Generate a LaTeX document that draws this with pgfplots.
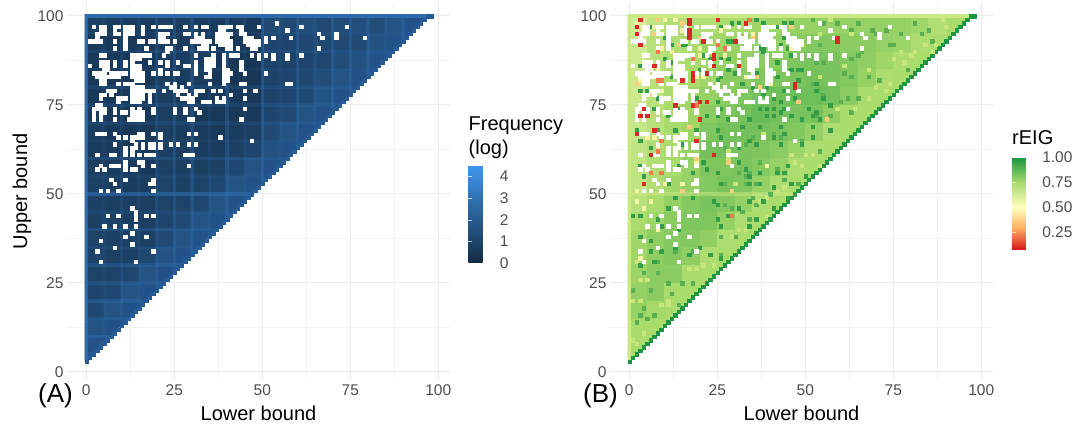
\documentclass[border=0pt]{standalone}
\usepackage{pgfplots}
\usepackage{pgfplotstable}
\usepackage{fontspec}
\setmainfont{Liberation Sans}
\pgfplotsset{compat=1.18}
\definecolor{tickgrey}{HTML}{4D4D4D}
\definecolor{gmaj}{HTML}{EBEBEB}
\definecolor{gmin}{HTML}{F2F2F2}
\definecolor{stripeA}{RGB}{48,110,176}
\definecolor{baseA}{RGB}{34,82,135}
\definecolor{diagA}{RGB}{38,92,150}
\definecolor{baseB}{RGB}{170,220,108}
\definecolor{diagB}{RGB}{30,150,66}
\definecolor{redc}{RGB}{218,40,38}
\definecolor{orgc}{RGB}{244,120,72}
\definecolor{palec}{RGB}{253,205,125}
\definecolor{yelc}{RGB}{246,245,165}
\definecolor{darkc}{RGB}{50,158,74}
\definecolor{midg}{RGB}{88,176,82}
\definecolor{ligg}{RGB}{200,230,122}
\definecolor{lightB}{RGB}{205,232,130}
\newcommand{\st}[5]{\addplot[line width=3.52pt,color=stripeA,opacity=#5,no marks] coordinates {(#1,#2)(#3,#4)};}
\newcommand{\fs}[1]{\fontsize{#1}{#1}\selectfont}
\pgfplotstableread{
l u va vb
2.5 97.5 .9 .62
7.5 97.5 .7 .68
12.5 97.5 .7 .72
17.5 97.5 .7 .72
22.5 97.5 .8 .72
27.5 97.5 .8 .74
32.5 97.5 .7 .74
37.5 97.5 .7 .76
42.5 97.5 .7 .76
47.5 97.5 .6 .78
52.5 97.5 1.3 .78
57.5 97.5 1.3 .78
62.5 97.5 1.4 .78
67.5 97.5 1.3 .78
72.5 97.5 1.4 .78
77.5 97.5 1.5 .78
82.5 97.5 1.4 .76
87.5 97.5 1.7 .72
2.5 92.5 .6 .64
7.5 92.5 .6 .7
12.5 92.5 .6 .72
17.5 92.5 .6 .74
22.5 92.5 .8 .76
27.5 92.5 .7 .76
32.5 92.5 .7 .78
37.5 92.5 .6 .78
42.5 92.5 .6 .78
47.5 92.5 .5 .8
52.5 92.5 1.1 .81
57.5 92.5 1.1 .81
62.5 92.5 1.2 .8
67.5 92.5 1.2 .8
72.5 92.5 1.3 .78
77.5 92.5 1.3 .77
82.5 92.5 1.6 .73
2.5 87.5 .6 .64
7.5 87.5 .6 .7
12.5 87.5 .6 .72
17.5 87.5 .6 .74
22.5 87.5 .8 .76
27.5 87.5 .7 .78
32.5 87.5 .7 .78
37.5 87.5 .6 .8
42.5 87.5 .5 .8
47.5 87.5 .5 .82
52.5 87.5 1.0 .83
57.5 87.5 1.0 .83
62.5 87.5 1.1 .81
67.5 87.5 1.2 .79
72.5 87.5 1.4 .76
77.5 87.5 1.6 .73
2.5 82.5 .6 .64
7.5 82.5 .6 .7
12.5 82.5 .6 .74
17.5 82.5 .6 .74
22.5 82.5 .8 .76
27.5 82.5 .7 .8
32.5 82.5 .7 .8
37.5 82.5 .6 .82
42.5 82.5 .5 .82
47.5 82.5 .5 .83
52.5 82.5 1.0 .84
57.5 82.5 1.1 .83
62.5 82.5 1.2 .81
67.5 82.5 1.4 .78
72.5 82.5 1.7 .73
2.5 77.5 .6 .64
7.5 77.5 .6 .7
12.5 77.5 .6 .74
17.5 77.5 .6 .76
22.5 77.5 .8 .78
27.5 77.5 .7 .8
32.5 77.5 .6 .82
37.5 77.5 .6 .84
42.5 77.5 .6 .85
47.5 77.5 .6 .85
52.5 77.5 1.0 .85
57.5 77.5 1.1 .84
62.5 77.5 1.3 .8
67.5 77.5 1.7 .74
2.5 72.5 .7 .66
7.5 72.5 .6 .7
12.5 72.5 .6 .74
17.5 72.5 .6 .76
22.5 72.5 .8 .8
27.5 72.5 .7 .82
32.5 72.5 .6 .84
37.5 72.5 .6 .86
42.5 72.5 .6 .84
47.5 72.5 .6 .83
52.5 72.5 1.1 .83
57.5 72.5 1.3 .79
62.5 72.5 1.7 .74
2.5 67.5 .7 .66
7.5 67.5 .6 .7
12.5 67.5 .6 .74
17.5 67.5 .6 .76
22.5 67.5 .8 .82
27.5 67.5 .7 .84
32.5 67.5 .7 .84
37.5 67.5 .6 .84
42.5 67.5 .7 .83
47.5 67.5 .8 .81
52.5 67.5 1.3 .78
57.5 67.5 1.7 .73
2.5 62.5 .7 .68
7.5 62.5 .7 .72
12.5 62.5 .6 .74
17.5 62.5 .6 .78
22.5 62.5 .9 .84
27.5 62.5 .8 .84
32.5 62.5 .7 .83
37.5 62.5 .7 .82
42.5 62.5 .9 .8
47.5 62.5 1.1 .77
52.5 62.5 1.6 .73
2.5 57.5 .8 .68
7.5 57.5 .7 .72
12.5 57.5 .7 .74
17.5 57.5 .6 .78
22.5 57.5 .9 .82
27.5 57.5 .8 .82
32.5 57.5 .8 .83
37.5 57.5 .9 .81
42.5 57.5 1.2 .78
47.5 57.5 1.7 .73
2.5 52.5 .9 .68
7.5 52.5 .8 .72
12.5 52.5 .7 .76
17.5 52.5 .7 .78
22.5 52.5 1.0 .81
27.5 52.5 .9 .83
32.5 52.5 1.0 .82
37.5 52.5 1.2 .78
42.5 52.5 1.7 .73
2.5 47.5 .9 .7
7.5 47.5 .8 .74
12.5 47.5 .8 .78
17.5 47.5 .8 .81
22.5 47.5 1.0 .83
27.5 47.5 1.0 .81
32.5 47.5 1.2 .78
37.5 47.5 1.7 .73
2.5 42.5 .9 .74
7.5 42.5 .9 .77
12.5 42.5 .8 .8
17.5 42.5 .8 .82
22.5 42.5 1.1 .82
27.5 42.5 1.3 .78
32.5 42.5 1.7 .73
2.5 37.5 1.0 .76
7.5 37.5 .9 .79
12.5 37.5 .9 .81
17.5 37.5 .9 .81
22.5 37.5 1.3 .79
27.5 37.5 1.7 .73
2.5 32.5 1.0 .76
7.5 32.5 .9 .79
12.5 32.5 .9 .81
17.5 32.5 1.2 .79
22.5 32.5 1.7 .73
2.5 27.5 1.0 .77
7.5 27.5 1.0 .8
12.5 27.5 1.2 .8
17.5 27.5 1.7 .74
2.5 22.5 1.1 .78
7.5 22.5 1.2 .8
12.5 22.5 1.7 .74
2.5 17.5 1.2 .78
7.5 17.5 1.7 .75
2.5 12.5 1.7 .74
}\blocks
\pgfplotstableread[row sep=\\]{
l u\\
0 3\\1 4\\2 5\\3 6\\4 7\\5 8\\6 9\\7 10\\8 11\\9 12\\10 13\\11 14\\12 15\\13 16\\14 17\\15 18\\16 19\\17 20\\18 21\\19 22\\20 23\\21 24\\22 25\\23 26\\24 27\\25 28\\26 29\\27 30\\28 31\\29 32\\30 33\\31 34\\32 35\\33 36\\34 37\\35 38\\36 39\\37 40\\38 41\\39 42\\40 43\\41 44\\42 45\\43 46\\44 47\\45 48\\46 49\\47 50\\48 51\\49 52\\50 53\\51 54\\52 55\\53 56\\54 57\\55 58\\56 59\\57 60\\58 61\\59 62\\60 63\\61 64\\62 65\\63 66\\64 67\\65 68\\66 69\\67 70\\68 71\\69 72\\70 73\\71 74\\72 75\\73 76\\74 77\\75 78\\76 79\\77 80\\78 81\\79 82\\80 83\\81 84\\82 85\\83 86\\84 87\\85 88\\86 89\\87 90\\88 91\\89 92\\90 93\\91 94\\92 95\\93 96\\94 97\\95 98\\96 99\\97 100\\98 100\\
}\diagcells
\pgfplotstableread[row sep=\\]{
l u\\
2 97\\4 97\\5 97\\8 97\\9 97\\11 97\\12 97\\13 97\\16 97\\19 97\\21 97\\22 97\\23 97\\24 97\\28 97\\31 97\\33 97\\34 97\\38 97\\39 97\\40 97\\41 97\\43 97\\44 97\\49 97\\
8 96\\11 96\\16 96\\4 96\\5 96\\12 96\\13 96\\38 96\\39 96\\44 96\\
3 95\\4 95\\5 95\\8 95\\9 95\\11 95\\12 95\\13 95\\16 95\\21 95\\22 95\\23 95\\28 95\\29 95\\31 95\\33 95\\37 95\\38 95\\39 95\\40 95\\41 95\\44 95\\45 95\\
11 94\\21 94\\22 94\\37 94\\38 94\\39 94\\40 94\\45 94\\46 94\\47 94\\31 94\\32 94\\33 94\\3 94\\
1 93\\2 93\\3 93\\4 93\\8 93\\11 93\\15 93\\16 93\\18 93\\19 93\\21 93\\22 93\\23 93\\25 93\\30 93\\31 93\\32 93\\33 93\\34 93\\35 93\\37 93\\38 93\\39 93\\40 93\\41 93\\45 93\\46 93\\47 93\\48 93\\49 93\\
11 92\\38 92\\39 92\\40 92\\41 92\\33 92\\34 92\\
8 91\\11 91\\17 91\\23 91\\24 91\\28 91\\32 91\\33 91\\34 91\\36 91\\40 91\\41 91\\43 91\\47 91\\48 91\\23 90\\
4 89\\5 89\\13 89\\14 89\\15 89\\16 89\\17 89\\18 89\\22 89\\31 89\\36 89\\39 89\\41 89\\42 89\\43 89\\47 89\\49 89\\53 89\\57 89\\
13 88\\14 88\\15 88\\34 88\\35 88\\36 88\\39 88\\
4 87\\5 87\\6 87\\8 87\\11 87\\13 87\\18 87\\21 87\\23 87\\26 87\\31 87\\34 87\\35 87\\36 87\\39 87\\44 87\\
1 86\\4 86\\5 86\\6 86\\8 86\\11 86\\13 86\\14 86\\15 86\\23 86\\28 86\\29 86\\31 86\\34 86\\35 86\\36 86\\39 86\\44 86\\
5 85\\6 85\\13 85\\14 85\\15 85\\21 85\\31 85\\34 85\\35 85\\39 85\\40 85\\44 85\\
2 84\\3 84\\4 84\\5 84\\7 84\\8 84\\9 84\\10 84\\11 84\\13 84\\14 84\\15 84\\16 84\\19 84\\21 84\\23 84\\25 84\\26 84\\31 84\\35 84\\39 84\\40 84\\41 84\\45 84\\51 84\\
3 83\\4 83\\5 83\\6 83\\7 83\\8 83\\9 83\\13 83\\14 83\\15 83\\16 83\\34 83\\35 83\\39 83\\40 83\\
4 82\\5 82\\14 82\\15 82\\16 82\\39 82\\40 82\\
4 81\\5 81\\9 81\\11 81\\12 81\\13 81\\23 81\\25 81\\29 81\\35 81\\39 81\\44 81\\45 81\\57 81\\
13 80\\14 80\\15 80\\16 80\\24 80\\25 80\\27 80\\
6 79\\7 79\\8 79\\13 79\\14 79\\15 79\\16 79\\17 79\\18 79\\19 79\\22 79\\25 79\\26 79\\27 79\\28 79\\31 79\\32 79\\33 79\\36 79\\38 79\\45 79\\48 79\\
4 78\\5 78\\7 78\\13 78\\14 78\\15 78\\16 78\\18 78\\26 78\\29 78\\31 78\\41 78\\
4 77\\9 77\\10 77\\11 77\\13 77\\14 77\\15 77\\16 77\\18 77\\27 77\\28 77\\29 77\\30 77\\37 77\\39 77\\45 77\\
9 76\\13 76\\14 76\\15 76\\18 76\\29 76\\30 76\\33 76\\34 76\\35 76\\37 76\\38 76\\39 76\\
3 75\\4 75\\
2 74\\3 74\\4 74\\5 74\\8 74\\13 74\\15 74\\19 74\\25 74\\28 74\\31 74\\45 74\\
2 73\\4 73\\5 73\\8 73\\10 73\\11 73\\13 73\\14 73\\15 73\\16 73\\19 73\\25 73\\28 73\\32 73\\
2 72\\4 72\\13 72\\14 72\\15 72\\16 72\\
2 71\\4 71\\8 71\\12 71\\13 71\\14 71\\15 71\\16 71\\29 71\\30 71\\44 71\\
3 67\\4 67\\5 67\\8 67\\15 67\\16 67\\19 67\\21 67\\29 67\\31 67\\
9 66\\11 66\\13 66\\14 66\\15 66\\16 66\\21 66\\38 66\\13 65\\47 65\\
8 64\\14 64\\16 64\\18 64\\19 64\\21 64\\24 64\\26 64\\29 64\\31 64\\
11 63\\13 63\\14 63\\16 63\\18 63\\19 63\\21 63\\11 62\\13 62\\
3 61\\7 61\\8 61\\11 61\\13 61\\15 61\\17 61\\18 61\\19 61\\28 61\\29 61\\30 61\\
11 59\\15 59\\16 59\\4 58\\7 58\\8 58\\9 58\\11 58\\16 58\\19 58\\29 58\\3 57\\5 57\\11 57\\13 57\\14 57\\
7 54\\11 54\\19 54\\8 53\\18 53\\19 53\\4 51\\6 51\\9 51\\19 51\\
13 46\\14 45\\6 44\\9 44\\14 44\\17 44\\19 44\\14 43\\5 41\\8 41\\11 41\\14 41\\13 39\\11 38\\17 38\\4 37\\13 36\\8 35\\3 34\\19 34\\4 31\\14 31\\
54 98\\49 97\\61 97\\74 97\\57 96\\66 95\\71 95\\51 94\\53 94\\58 94\\67 94\\71 94\\79 94\\51 93\\46 92\\47 92\\48 92\\49 92\\66 91\\51 89\\61 89\\49 88\\53 88\\57 88\\51 84\\58 81\\48 79\\
}\holes
\pgfplotstableread[row sep=\\]{
l u\\
4 97\\6 97\\11 97\\12 97\\19 97\\23 97\\26 97\\29 98\\31 98\\36 99\\42 97\\44 98\\46 98\\38 98\\
10 94\\12 92\\15 92\\16 92\\23 93\\28 93\\29 93\\43 92\\44 94\\45 91\\37 91\\38 91\\38 90\\
4 89\\12 87\\3 86\\10 88\\21 89\\23 88\\26 88\\28 88\\34 88\\42 87\\46 89\\48 85\\44 85\\46 85\\
2 84\\11 84\\20 85\\26 83\\28 85\\30 84\\36 84\\49 85\\
7 83\\12 83\\25 82\\32 81\\42 83\\44 81\\48 82\\53 81\\
3 79\\5 79\\13 79\\19 79\\25 79\\28 79\\35 80\\39 80\\44 79\\53 79\\
8 77\\19 77\\25 76\\38 78\\41 77\\43 76\\47 77\\55 77\\
3 75\\7 74\\14 74\\26 74\\37 74\\39 74\\41 74\\43 73\\44 74\\51 74\\53 73\\57 75\\
11 72\\22 72\\25 72\\28 71\\34 71\\39 72\\41 72\\46 72\\49 71\\52 72\\54 71\\
2 68\\8 68\\13 68\\19 68\\25 68\\32 69\\37 69\\43 69\\52 69\\57 68\\
3 65\\6 63\\15 64\\16 63\\21 64\\26 66\\31 63\\34 65\\36 64\\41 66\\43 64\\44 67\\49 64\\52 66\\
3 58\\4 55\\14 58\\18 56\\21 59\\22 57\\25 56\\31 59\\33 57\\34 55\\37 56\\42 56\\44 56\\45 58\\50 55\\
11 53\\18 53\\26 53\\34 53\\37 53\\41 52\\46 53\\47 50\\
1 44\\3 44\\8 43\\11 46\\13 49\\18 49\\24 48\\25 47\\31 46\\34 48\\38 48\\41 46\\45 49\\
3 38\\6 37\\9 41\\14 40\\17 38\\25 43\\26 41\\28 44\\34 41\\36 43\\40 43\\
6 34\\9 34\\13 35\\20 35\\26 32\\23 33\\17 33\\3 30\\7 31\\
}\darkcells
\pgfplotstableread[row sep=\\]{
l u\\
52 99\\55 98\\59 98\\63 96\\65 98\\69 96\\73 96\\75 92\\74 92\\81 98\\86 93\\83 95\\54 92\\55 87\\53 87\\63 88\\65 89\\68 83\\61 84\\63 83\\52 81\\55 78\\53 72\\60 76\\62 77\\65 77\\63 73\\57 72\\70 95\\66 90\\77 95\\71 82\\79 85\\85 96\\
33 64\\35 66\\43 66\\41 67\\27 63\\37 59\\31 56\\33 55\\34 56\\27 53\\33 53\\36 53\\48 53\\44 54\\42 57\\52 66\\54 62\\49 65\\29 46\\27 47\\32 45\\36 47\\40 50\\35 49\\26 38\\30 38\\34 43\\
4 28\\6 23\\3 16\\1 23\\8 28\\11 25\\15 25\\5 15\\7 16\\12 22\\14 19\\8 31\\13 34\\18 34\\26 33\\18 25\\4 18\\2 14\\
}\midcells
\pgfplotstableread[row sep=\\]{
l u\\
57 99\\89 99\\90 97\\54 95\\63 95\\77 90\\80 89\\78 87\\81 90\\68 77\\70 80\\74 81\\73 79\\64 74\\59 74\\61 86\\68 85\\56 71\\84 92\\86 90\\87 92\\54 83\\75 88\\
38 48\\37 48\\39 49\\42 51\\44 52\\47 59\\46 61\\50 61\\52 61\\54 58\\49 58\\31 40\\33 40\\29 38\\41 46\\39 44\\36 43\\38 67\\28 62\\30 53\\28 60\\
2 31\\5 26\\3 20\\9 19\\11 19\\1 9\\2 8\\4 11\\21 30\\19 29\\24 30\\11 20\\17 29\\1 20\\3 26\\
}\ligcells
\pgfplotstableread[row sep=\\]{
l u\\
2 98\\5 97\\7 97\\10 99\\13 99\\15 96\\9 91\\12 90\\20 91\\27 97\\26 96\\35 95\\20 89\\21 87\\27 89\\33 83\\34 83\\40 81\\46 91\\19 83\\3 82\\9 79\\8 85\\21 83\\
5 66\\7 66\\8 63\\11 66\\19 59\\8 61\\15 53\\10 53\\4 46\\3 32\\6 48\\39 58\\8 40\\2 51\\4 51\\2 48\\
}\yelcells
\pgfplotstableread[row sep=\\]{
l u\\
8 99\\15 98\\7 95\\4 93\\20 94\\14 92\\35 94\\14 85\\6 78\\10 77\\2 81\\36 83\\37 80\\46 97\\56 71\\48 76\\17 69\\7 68\\19 60\\15 51\\28 59\\29 51\\
}\palecells
\pgfplotstableread[row sep=\\]{
l u\\
34 99\\25 92\\27 91\\8 90\\18 88\\8 82\\9 82\\19 75\\9 65\\8 62\\6 56\\9 56\\29 44\\
}\orgcells
\pgfplotstableread[row sep=\\]{
l u\\
3 99\\17 99\\17 98\\25 99\\33 98\\2 97\\17 96\\17 95\\17 94\\2 95\\3 92\\21 93\\30 93\\24 89\\24 88\\7 86\\24 86\\31 86\\22 84\\18 84\\18 83\\18 82\\15 82\\47 81\\47 80\\20 76\\22 76\\13 75\\18 75\\4 74\\3 72\\5 72\\20 71\\7 68\\2 67\\19 65\\6 61\\24 61\\4 53\\59 94\\59 93\\
}\redcells
\pgfplotsset{
  /pgf/number format/assume math mode=true,
  panel/.style={
    scale only axis, width=383pt, height=377pt,
    xmin=-5.48, xmax=103.33, ymin=-2.25, ymax=103.65,
    clip mode=individual,
    xtick={0,25,50,75,100}, ytick={0,25,50,75,100},
    minor xtick={12.5,37.5,62.5,87.5}, minor ytick={12.5,37.5,62.5,87.5},
    grid=both, major grid style={gmaj,line width=1pt}, minor grid style={gmin,line width=.6pt},
    axis line style={draw=none}, tick style={draw=none},
    tick label style={font=\fs{15.5},text=tickgrey},
    xticklabel style={yshift=-1pt},
    every axis x label/.style={at={(axis description cs:0.5,0)},yshift=-33pt,anchor=center,font=\fs{20}},
    every axis y label/.style={at={(axis description cs:0,0.5)},xshift=-45pt,rotate=90,anchor=center,font=\fs{20}},
  },
  cell/.style={only marks,mark=square*,mark size=1.72pt,line width=0.1pt},
  coarse/.style={scatter,only marks,point meta=explicit,mark=square*,mark size=8.8pt,line width=0.1pt,
     scatter/use mapped color={draw=mapped color,fill=mapped color}},
  cbar/.style={scale only axis,axis line style={draw=none},
     yticklabel pos=right, ytick pos=both, tick align=inside, major tick length=4pt,
     tick style={draw=white,line width=.5pt,opacity=.7},
     yticklabel style={font=\fs{15.5},anchor=west,xshift=2pt}}
}
\newcommand{\cells}[2]{\addplot[cell,mark options={draw=#1,fill=#1}] table[x=l,y=u] {#2};}
\begin{document}
\begin{tikzpicture}[x=1pt,y=1pt]
\path[use as bounding box] (0,0) rectangle (1075,423);
\begin{axis}[panel, at={(67pt,43pt)}, anchor=south west,
  xlabel={Lower bound}, ylabel={Upper bound},
  colormap={freq}{rgb255(0)=(19,43,67) rgb255(454)=(63,151,238)},
  point meta min=0, point meta max=4.54,
  colorbar,
  colorbar style={cbar, at={(parent axis.south east)}, anchor=south west, xshift=9.8pt, yshift=117pt,
     width=26pt, height=98pt, ytick={0,1,2,3,4}}]
\addplot[fill=baseA,draw=none] coordinates {(0,3)(-0.5,3)(-0.5,100.5)(98.5,100.5)(98.5,99.5)(96.5,99.5)};
\addplot[coarse] table[x=l,y=u,meta=va] {\blocks};
\st{0}{2.5}{0}{100.5}{.8}
\st{5}{8}{5}{100}{.12}\st{10}{13}{10}{100}{.2}\st{15}{18}{15}{100}{.12}\st{20}{23}{20}{100}{.3}
\st{25}{28}{25}{100}{.35}\st{30}{33}{30}{100}{.35}\st{35}{38}{35}{100}{.15}\st{40}{43}{40}{100}{.35}
\st{45}{48}{45}{100}{.15}\st{50}{53}{50}{100}{.45}\st{55}{58}{55}{100}{.12}\st{60}{63}{60}{100}{.35}
\st{65}{68}{65}{100}{.2}\st{70}{73}{70}{100}{.4}\st{75}{78}{75}{100}{.35}\st{80}{83}{80}{100}{.35}
\st{85}{88}{85}{100}{.2}\st{90}{93}{90}{100}{.4}
\st{-0.5}{5}{2}{5}{.3}\st{-0.5}{10}{7}{10}{.45}\st{-0.5}{15}{12}{15}{.3}\st{-0.5}{20}{17}{20}{.4}
\st{-0.5}{25}{22}{25}{.3}\st{-0.5}{30}{27}{30}{.35}\st{-0.5}{35}{32}{35}{.15}\st{-0.5}{40}{37}{40}{.35}
\st{-0.5}{45}{42}{45}{.15}\st{-0.5}{50}{47}{50}{.6}\st{-0.5}{55}{52}{55}{.1}\st{-0.5}{60}{57}{60}{.25}
\st{-0.5}{65}{62}{65}{.1}\st{-0.5}{70}{67}{70}{.2}\st{-0.5}{75}{72}{75}{.2}\st{-0.5}{80}{77}{80}{.2}
\st{-0.5}{85}{82}{85}{.1}\st{-0.5}{90}{87}{90}{.2}\st{-0.5}{95}{92}{95}{.1}
\st{-0.5}{100}{98.5}{100}{.9}
\cells{diagA}{\diagcells}
\cells{white}{\holes}
\end{axis}
\begin{axis}[panel, at={(610pt,43pt)}, anchor=south west,
  xlabel={Lower bound},
  colormap={reig}{rgb255(8)=(215,25,28) rgb255(29)=(253,174,97) rgb255(50)=(255,255,191) rgb255(75)=(166,217,106) rgb255(100)=(26,150,65)},
  point meta min=0.08, point meta max=1,
  colorbar,
  colorbar style={cbar, at={(parent axis.south east)}, anchor=south west, xshift=10.2pt, yshift=130.7pt,
     width=25pt, height=92pt, ytick={0.25,0.5,0.75,1},
     yticklabel={\pgfmathprintnumber[fixed,fixed zerofill,precision=2]{\tick}}}]
\addplot[fill=baseB,draw=none] coordinates {(0,3)(-0.5,3)(-0.5,100.5)(98.5,100.5)(98.5,99.5)(96.5,99.5)};
\addplot[coarse] table[x=l,y=u,meta=vb] {\blocks};
\addplot[line width=3.52pt,color=lightB,no marks] coordinates {(0,3)(0,100.5)};
\addplot[line width=3.52pt,color=lightB,no marks] coordinates {(-0.5,100)(98.5,100)};
\addplot[line width=3.52pt,color=lightB,opacity=.5,no marks] coordinates {(-0.5,50)(47,50)};
\cells{diagB}{\diagcells}
\cells{midg}{\midcells}
\cells{ligg}{\ligcells}
\cells{darkc}{\darkcells}
\cells{yelc}{\yelcells}
\cells{palec}{\palecells}
\cells{white}{\holes}
\cells{orgc}{\orgcells}
\cells{redc}{\redcells}
\end{axis}
\node[anchor=west,inner sep=0pt,font=\fs{26}] at (38,27) {(A)};
\node[anchor=west,inner sep=0pt,font=\fs{26}] at (583,27) {(B)};
\node[anchor=west,inner sep=0pt,font=\fs{20}] at (468.5,297) {Frequency};
\node[anchor=west,inner sep=0pt,font=\fs{20}] at (468.5,274) {(log)};
\node[anchor=west,inner sep=0pt,font=\fs{20}] at (1012,285) {rEIG};
\end{tikzpicture}
\end{document}
